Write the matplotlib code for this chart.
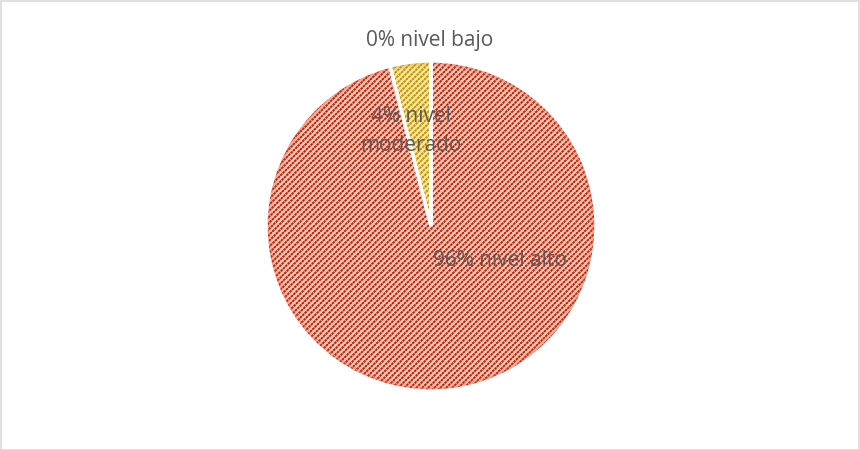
import numpy as np
import matplotlib
matplotlib.use("Agg")
import matplotlib.pyplot as plt
from matplotlib.lines import Line2D
from matplotlib.patches import Rectangle, Wedge

plt.rcParams["lines.scale_dashes"] = False

# Data
categories = ["nivel alto", "nivel moderado", "nivel bajo"]
percentages = [96, 4, 0]
face_colors = ["#FBCBB9", "#FCE6A0", "#D9D9D9"]
stripe_colors = ["#C01800", "#C09000", "#808080"]
rim_colors = ["#E2604A", "#D4A52A", "#A0A0A0"]

W, H, DPI = 860, 450, 100
R_PX = 165.0
CX, CY = 431.0, 226.0  # centre in pixels from top-left
PT = 72.0 / DPI        # points per pixel

fig = plt.figure(figsize=(W / DPI, H / DPI), dpi=DPI)
ax = fig.add_axes([0, 0, 1, 1])

wedges, _ = ax.pie(
    percentages,
    startangle=90,
    counterclock=False,
    colors=face_colors,
    radius=1.0,
    wedgeprops=dict(edgecolor="none", linewidth=0),
)
ax.set_xlim(-CX / R_PX, (W - CX) / R_PX)
ax.set_ylim(-(H - CY) / R_PX, CY / R_PX)
ax.set_aspect("equal")
ax.axis("off")

# dashed diagonal stripe texture clipped to each wedge
spacing = 6.0 / R_PX
offsets = np.arange(-3.0, 3.0, spacing)
for wedge, sc in zip(wedges, stripe_colors):
    for c in offsets:
        t = np.array([-1.6, 1.6])
        ln = Line2D(t + c, t, color=sc, linewidth=1.9 * PT,
                    dashes=(2.6 * PT, 0.7 * PT), zorder=2)
        ax.add_line(ln)
        ln.set_clip_path(wedge)

# soft shaded rim along the outer edge of each slice
for wedge, rc in zip(wedges, rim_colors):
    for k in range(1, 7):
        rim = Wedge((0, 0), 1.0, 0, 360, width=k / R_PX,
                    facecolor=rc, edgecolor="none", alpha=0.09, zorder=2.5)
        ax.add_patch(rim)
        rim.set_clip_path(wedge)

# white separators between slices
for wedge in wedges:
    sep = Wedge(wedge.center, wedge.r, wedge.theta1, wedge.theta2,
                facecolor="none", edgecolor="white", linewidth=2.4, zorder=3)
    ax.add_patch(sep)

label_font = dict(family=["Open Sans", "DejaVu Sans"], fontsize=15,
                  color="#595959", ha="center", va="center", zorder=5)

def px(x, y):
    return (x - CX) / R_PX, (CY - y) / R_PX

ax.text(*px(500, 260), f"{percentages[0]}% {categories[0]}", **label_font)
ax.text(*px(411, 131), f"{percentages[1]}% nivel\nmoderado",
        linespacing=1.5, **label_font)
ax.text(*px(430, 40), f"{percentages[2]}% {categories[2]}", **label_font)

# chart-area frame
fig.patches.append(Rectangle((0.5 / W, 0.5 / H), 1 - 1.5 / W, 1 - 1.5 / H,
                             transform=fig.transFigure, fill=False,
                             edgecolor="#D9D9D9", linewidth=1.2))

fig.savefig("out.png", dpi=DPI, facecolor="white")
